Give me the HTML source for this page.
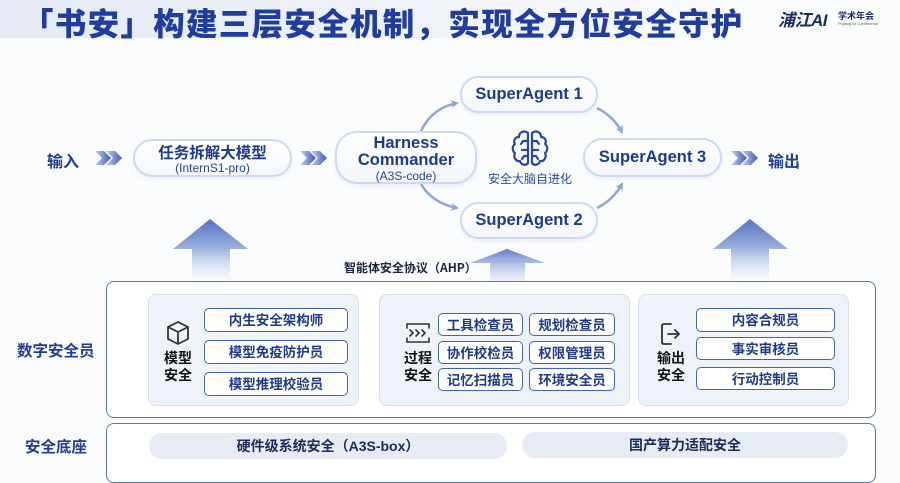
<!DOCTYPE html>
<html><head><meta charset="utf-8">
<style>
*{margin:0;padding:0;box-sizing:border-box}
body{width:900px;height:467px;overflow:hidden;position:relative;background:#fbfcfe;font-family:"Liberation Sans","Noto Sans CJK SC",sans-serif}
.abs{position:absolute}
.band{left:0;top:0;width:900px;height:38px;background:linear-gradient(90deg,#e4e9f3 0%,#eef1f8 40%,#fbfcfe 85%)}
.title{left:22px;top:-1px;font-size:31.5px;font-weight:900;color:#1f3d9e;white-space:nowrap;font-family:"Noto Sans CJK SC",sans-serif;letter-spacing:1.3px}
.pill{border:2px solid #cfd9ef;border-radius:22px;background:linear-gradient(180deg,#ffffff,#f3f6fc);box-shadow:0 2px 4px rgba(120,140,190,.12);text-align:center;color:#1d3a8e;font-weight:700}
.lbl{font-weight:700;color:#1f3d9a;font-family:"Noto Sans CJK SC",sans-serif;white-space:nowrap}
.panel{background:#eef2f9;border:1px solid #d6dff0;border-radius:8px}
.item{background:#fff;border:1.5px solid #4563b3;border-radius:5px;text-align:center;font-weight:700;color:#1e3a8c;font-family:"Noto Sans CJK SC",sans-serif;font-size:13.5px;line-height:21px}
.plab{font-weight:700;color:#111;font-size:14px;line-height:17px;text-align:center;font-family:"Noto Sans CJK SC",sans-serif}
.bp{background:#e7ebf4;border-radius:14px;text-align:center;font-weight:700;color:#1b2c5c;font-size:14px;line-height:26px;font-family:"Liberation Sans","Noto Sans CJK SC",sans-serif}
</style></head><body>
<div class="abs band"></div>
<div class="abs title">「书安」构建三层安全机制，实现全方位安全守护</div>
<div class="abs" style="left:778px;top:6px;font-size:17px;font-weight:700;font-style:italic;color:#1b2c5e;font-family:'Liberation Sans','Noto Sans CJK SC',sans-serif;letter-spacing:-0.5px">浦江AI</div>
<div class="abs" style="left:838px;top:9px;font-size:9px;font-weight:700;color:#1b2c5e;font-family:'Noto Sans CJK SC',sans-serif">学术年会</div>
<div class="abs" style="left:838px;top:21px;font-size:4px;color:#555">Pujiang AI Conference</div>

<svg class="abs" style="left:0;top:0" width="900" height="467">
<defs>
<linearGradient id="ch" x1="0" x2="1"><stop offset="0" stop-color="#c5d2ee"/><stop offset="1" stop-color="#3a5bb5"/></linearGradient>
<linearGradient id="up" x1="0" y1="0" x2="0" y2="1"><stop offset="0" stop-color="#5673c0"/><stop offset="0.45" stop-color="#97acdc"/><stop offset="1" stop-color="#eef2fa" stop-opacity="0.3"/></linearGradient>
<linearGradient id="up2" x1="0" y1="0" x2="0" y2="1"><stop offset="0" stop-color="#5f7cc6"/><stop offset="1" stop-color="#dfe6f5" stop-opacity="0.5"/></linearGradient>
<marker id="ah" markerWidth="8" markerHeight="8" refX="6" refY="4" orient="auto" markerUnits="userSpaceOnUse"><path d="M0,0 L8,4 L0,8 L2,4 Z" fill="#8ea4d6"/></marker>
</defs>
<g fill="url(#ch)">
<path d="M95,151 L104,151 L111,158 L104,165 L95,165 L102,158Z"/><path d="M106,151 L115,151 L122,158 L115,165 L106,165 L113,158Z"/>
<path d="M300,151 L309,151 L316,158 L309,165 L300,165 L307,158Z"/><path d="M311,151 L320,151 L327,158 L320,165 L311,165 L318,158Z"/>
<path d="M731,151 L740,151 L747,158 L740,165 L731,165 L738,158Z"/><path d="M742,151 L751,151 L758,158 L751,165 L742,165 L749,158Z"/>
</g>
<g fill="none" stroke="#90a6d8" stroke-width="2.5">
<path d="M421,131 Q432,108 457,103" marker-end="url(#ah)"/>
<path d="M421,184 Q432,203 457,208" marker-end="url(#ah)"/>
<path d="M597,108 Q613,116 622,132" marker-end="url(#ah)"/>
<path d="M597,208 Q613,200 622,184" marker-end="url(#ah)"/>
</g>
<path d="M210,219 L248,249 L230,249 L230,281 L192,281 L192,249 L173,249 Z" fill="url(#up)"/>
<path d="M507,249 L545,263 L525,263 L525,281 L490,281 L490,263 L470,263 Z" fill="url(#up2)"/>
<path d="M750,219 L788,249 L769,249 L769,281 L731,281 L731,249 L713,249 Z" fill="url(#up)"/>
</svg>

<div class="abs lbl" style="left:47px;top:148px;font-size:16px">输入</div>
<div class="abs lbl" style="left:768px;top:148px;font-size:16px">输出</div>

<div class="abs pill" style="left:133px;top:139px;width:159px;height:38px">
<div style="font-size:15.5px;line-height:18px;margin-top:2px;font-family:'Noto Sans CJK SC',sans-serif">任务拆解大模型</div>
<div style="font-size:12px;line-height:14px;font-weight:400;color:#2a4690">(InternS1-pro)</div>
</div>
<div class="abs pill" style="left:335px;top:131px;width:142px;height:53px">
<div style="font-size:16.5px;line-height:17px;margin-top:2px">Harness</div>
<div style="font-size:16.5px;line-height:17px">Commander</div>
<div style="font-size:12px;line-height:14px;font-weight:400;color:#2a4690">(A3S-code)</div>
</div>
<div class="abs pill" style="left:460px;top:76px;width:138px;height:37px;font-size:16.5px;line-height:33px">SuperAgent 1</div>
<div class="abs pill" style="left:460px;top:202px;width:138px;height:37px;font-size:16.5px;line-height:33px">SuperAgent 2</div>
<div class="abs pill" style="left:583px;top:138px;width:139px;height:39px;font-size:16.5px;line-height:35px">SuperAgent 3</div>

<svg class="abs" style="left:511px;top:129px" width="38" height="38" viewBox="0 0 38 38" fill="none" stroke="#2448a8" stroke-width="2.2" stroke-linecap="round" stroke-linejoin="round">
<path d="M17,4 C13,1 8,3 8,8 C4,8 2,12 4,15 C1,17 1,22 4,24 C2,28 5,33 9,32 C10,36 15,37 17,34 Z"/>
<path d="M21,4 C25,1 30,3 30,8 C34,8 36,12 34,15 C37,17 37,22 34,24 C36,28 33,33 29,32 C28,36 23,37 21,34 Z"/>
<path d="M17,12 L12,12 L10,15 M17,21 L11,21 M17,27 L13,27 L11,30"/>
<path d="M21,12 L26,12 L28,15 M21,21 L27,21 M21,27 L25,27 L27,30"/>
</svg>
<div class="abs" style="left:488px;top:170px;font-size:12px;color:#2a4a9c;font-family:'Noto Sans CJK SC',sans-serif;white-space:nowrap">安全大脑自进化</div>

<div class="abs" style="left:344px;top:259px;font-size:12px;font-weight:700;color:#1b2440;font-family:'Noto Sans CJK SC',sans-serif;white-space:nowrap">智能体安全协议（AHP）</div>

<div class="abs" style="left:106px;top:281px;width:770px;height:137px;border:1.5px solid #5a74ba;border-radius:8px;background:rgba(255,255,255,0.9)"></div>
<div class="abs lbl" style="left:17px;top:339px;font-size:15.5px">数字安全员</div>

<div class="abs panel" style="left:148px;top:294px;width:211px;height:112px"></div>
<div class="abs panel" style="left:379px;top:294px;width:251px;height:112px"></div>
<div class="abs panel" style="left:638px;top:294px;width:211px;height:112px"></div>

<svg class="abs" style="left:165px;top:320px" width="26" height="26" viewBox="0 0 26 26" fill="none" stroke="#333" stroke-width="1.8" stroke-linejoin="round">
<path d="M13,2 L23,7 L23,19 L13,24 L3,19 L3,7 Z"/><path d="M3,7 L13,12 L23,7 M13,12 L13,24"/>
</svg>
<svg class="abs" style="left:405px;top:322px" width="26" height="22" viewBox="0 0 26 22" fill="none" stroke="#333" stroke-width="1.6" stroke-linecap="round">
<path d="M2,6 L2,2 L24,2 L24,6 M2,16 L2,20 L24,20 L24,16"/>
<path d="M5,8 L8,11 L5,14 M11,8 L14,11 L11,14 M17,8 L20,11 L17,14"/>
</svg>
<svg class="abs" style="left:659px;top:322px" width="24" height="24" viewBox="0 0 24 24" fill="none" stroke="#333" stroke-width="1.8" stroke-linecap="round" stroke-linejoin="round">
<path d="M12,2 L5,2 Q3,2 3,4 L3,20 Q3,22 5,22 L12,22"/><path d="M9,12 L20,12 M16,8 L20,12 L16,16"/>
</svg>

<div class="abs plab" style="left:163px;top:350px;width:30px">模型<br>安全</div>
<div class="abs plab" style="left:403px;top:350px;width:30px">过程<br>安全</div>
<div class="abs plab" style="left:656px;top:350px;width:30px">输出<br>安全</div>

<div class="abs item" style="left:204px;top:308px;width:144px;height:24px">内生安全架构师</div>
<div class="abs item" style="left:204px;top:340px;width:144px;height:24px">模型免疫防护员</div>
<div class="abs item" style="left:204px;top:372px;width:144px;height:24px">模型推理校验员</div>

<div class="abs item" style="left:438px;top:313px;width:85px;height:23px;line-height:20px">工具检查员</div>
<div class="abs item" style="left:529px;top:313px;width:86px;height:23px;line-height:20px">规划检查员</div>
<div class="abs item" style="left:438px;top:341px;width:85px;height:23px;line-height:20px">协作校检员</div>
<div class="abs item" style="left:529px;top:341px;width:86px;height:23px;line-height:20px">权限管理员</div>
<div class="abs item" style="left:438px;top:368px;width:85px;height:23px;line-height:20px">记忆扫描员</div>
<div class="abs item" style="left:529px;top:368px;width:86px;height:23px;line-height:20px">环境安全员</div>

<div class="abs item" style="left:696px;top:308px;width:139px;height:24px">内容合规员</div>
<div class="abs item" style="left:696px;top:337px;width:139px;height:23px;line-height:20px">事实审核员</div>
<div class="abs item" style="left:696px;top:367px;width:139px;height:23px;line-height:20px">行动控制员</div>

<div class="abs" style="left:106px;top:423px;width:770px;height:60px;border:1.5px solid #5a74ba;border-radius:8px;background:#fff"></div>
<div class="abs lbl" style="left:25px;top:435px;font-size:15.5px">安全底座</div>
<div class="abs bp" style="left:149px;top:433px;width:358px;height:26px">硬件级系统安全（A3S-box）</div>
<div class="abs bp" style="left:522px;top:432px;width:326px;height:26px">国产算力适配安全</div>
</body></html>
